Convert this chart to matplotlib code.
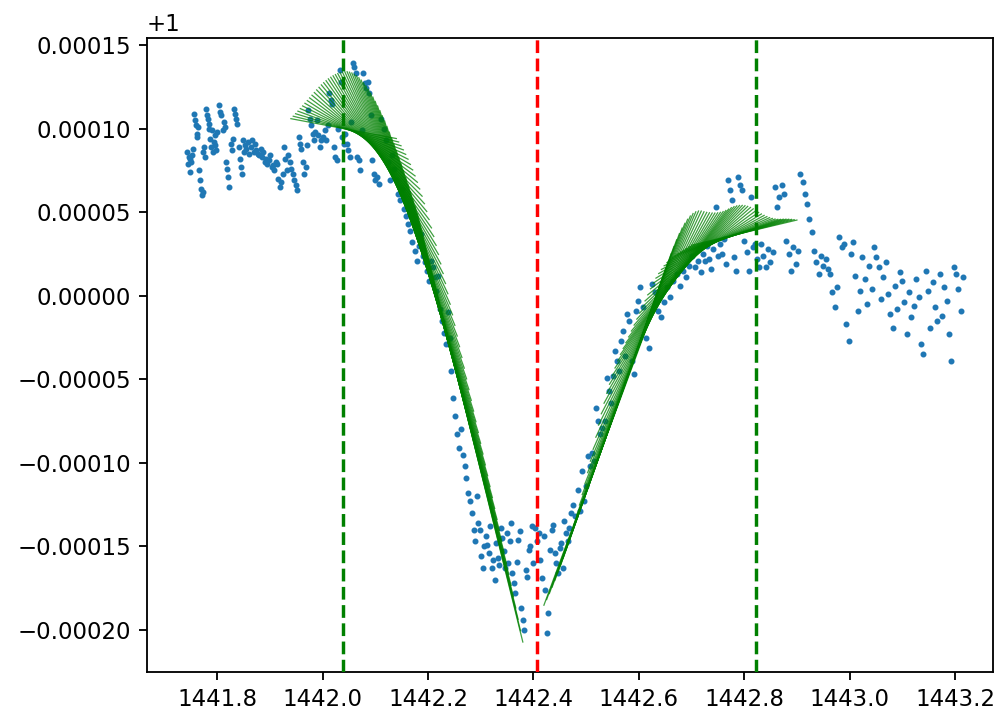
import numpy as np
import matplotlib
matplotlib.use("Agg")
import matplotlib.pyplot as plt

# ---- observed flux (offset from 1, in units of 1e-5), segment by segment ----
segA_range = (1441.743, 1441.800)
segA_vals = [8.6, 7.9, 8.3, 7.4, 8.2, 8.0, 8.4, 8.8, 10.9, 10.5, 10.2, 9.7, 9.5, 10.1, 7.5, 6.9,
             6.4, 6.0, 6.2, 8.6, 8.9, 8.3, 11.2, 10.8, 10.6, 10.0, 10.3, 9.4, 8.9, 9.9, 8.6, 9.2,
             9.6, 9.0, 8.7, 9.8]

segB_range = (1441.804, 1441.860)
segB_vals = [11.4, 11.0, 10.8, 9.9, 10.4, 10.1, 8.0, 7.6, 7.1, 6.5, 9.1, 8.7, 9.4, 11.2, 10.9,
             10.6, 10.3, 8.9, 8.2, 7.7, 7.3, 9.3, 8.6, 9.0, 8.8, 9.2, 8.5]

segC_range = (1441.864, 1441.940)
segC_vals = [8.9, 9.3, 8.6, 9.1, 8.7, 8.5, 8.4, 8.8, 8.3, 8.6, 8.0, 8.2, 7.9, 8.1, 8.4, 7.7,
             7.8, 7.5, 8.0, 7.9, 7.0, 6.5, 6.8, 7.3, 8.9, 8.2, 7.5, 8.4, 8.0, 7.6]

segD_range = (1441.944, 1442.000)
segD_vals = [7.3, 6.9, 6.6, 6.3, 9.5, 9.1, 8.8, 8.0, 7.3, 7.7, 9.0, 11.1, 10.6, 10.2, 9.7, 9.3,
             9.8, 10.5, 9.6, 8.9, 9.3, 9.5]

segE_range = (1442.004, 1442.100)
segE_vals = [9.9, 9.3, 10.2, 12.1, 11.7, 11.5, 8.9, 8.3, 8.1, 10.0, 13.5, 12.8, 9.5, 9.1, 9.7,
             9.1, 8.7, 8.3, 10.4, 13.9, 13.7, 13.3, 8.3, 8.1, 7.5, 9.9, 13.3, 12.7, 12.4, 12.8,
             12.1, 10.8, 8.1, 7.3, 6.9]

segF_range = (1442.104, 1442.198)
segF_vals = [7.1, 6.7, 10.6, 10.0, 9.3, 8.0, 6.9, 8.4, 7.6, 6.9, 6.1, 5.7, 6.4, 5.2, 4.8, 4.3,
             3.9, 3.2, 2.7, 2.1, 3.0, 3.7, 2.4, 2.0, 1.5]

segG_range = (1442.202, 1442.280)
segG_vals = [0.9, 2.1, 1.7, 1.1, 0.3, 1.2, -0.8, -1.5, -2.2, -2.9, -1.0, -2.5, -4.5, -6.1, -7.2,
             -8.3, -9.1, -8.0, -9.5, -10.2, -10.9, -11.8, -12.3]

segH_range = (1442.284, 1442.400)
segH_vals = [-13.0, -14.0, -14.7, -12.0, -13.6, -14.0, -15.6, -16.3, -15.0, -14.4, -14.9, -15.4,
             -13.8, -16.3, -15.8, -17.0, -14.8, -15.7, -16.1, -13.9, -14.5, -15.3, -16.3, -14.2,
             -16.0, -14.7, -13.6, -16.6, -17.2, -17.8, -15.9, -14.6, -14.1, -18.7, -19.4, -20.0,
             -16.4, -16.8, -15.2, -15.0, -13.8, -16.0]

segI_range = (1442.404, 1442.468)
segI_vals = [-13.9, -14.7, -14.2, -15.8, -16.9, -14.4, -17.6, -20.2, -19.0, -15.2, -14.0, -13.7,
             -15.4, -16.0, -16.6, -15.1, -14.8, -16.3, -13.5, -14.2, -14.7, -13.9]

segJ_range = (1442.472, 1442.598)
segJ_vals = [-13.0, -12.5, -13.2, -11.6, -12.9, -10.5, -12.3, -11.4, -9.6, -10.2, -9.4, -9.9,
             -6.7, -7.5, -8.3, -7.9, -7.5, -4.9, -5.7, -6.4, -4.8, -3.3, -3.9, -4.5, -2.7, -2.1,
             -3.6, -1.1, -1.5, -3.9, -4.7, -0.9, -0.3]

segK_range = (1442.602, 1442.718)
segK_vals = [0.5, -0.7, -2.5, -3.1, 0.7, 0.2, -0.9, -1.3, -0.4, 0.5, -0.1, 0.9, 1.3, 0.6, 1.5,
             1.1, 1.8, 2.4, 1.7, 2.1, 1.4]

segL_range = (1442.722, 1442.828)
segL_vals = [2.5, 2.1, 3.0, 2.2, 1.6, 2.8, 5.3, 2.4, 3.1, 2.5, 3.4, 1.9, 6.9, 6.3, 5.7, 2.3, 1.5,
             7.1, 6.6, 6.3, 3.3, 2.6, 1.5, 5.9, 2.9, 3.1, 2.2, 1.7]

segM_range = (1442.832, 1442.998)
segM_vals = [3.1, 2.4, 1.7, 2.8, 2.0, 2.6, 6.5, 5.3, 5.9, 6.6, 6.1, 3.3, 2.5, 1.5, 2.9, 1.9, 2.7,
             7.3, 6.8, 6.1, 5.5, 4.6, 3.8, 2.7, 2.0, 1.3, 2.4, 1.8, 2.2, 1.6, 1.3, 0.2, -0.7, 0.5,
             3.5, 2.9, 3.1, -1.7, -2.7]

segN_range = (1443.002, 1443.215)
segN_vals = [2.5, 3.2, 1.2, -0.9, 0.3, 2.3, 1.0, -0.5, 1.8, 0.4, 2.9, 2.3, 1.7, -0.2, 1.1, 2.0,
             0.1, -1.1, -1.9, 0.6, -0.8, 1.4, 0.9, -0.4, -2.3, 0.2, -1.3, -0.6, 1.0, -0.1, -2.9,
             -3.5, 1.5, 0.3, -1.9, 0.8, -0.7, -1.5, 1.3, -1.2, 0.5, -0.3, -2.3, -3.9, 1.7, 1.3,
             0.4, -0.9, 1.1]

# ---- smooth flank profiles (read from the green fits, 1e-5 units) ----
left_prof_x = [1441.89, 1441.94, 1441.99, 1442.04, 1442.09, 1442.14, 1442.19, 1442.24,
               1442.29, 1442.34, 1442.39, 1442.44]
left_prof_y = [9.1, 9.6, 9.95, 10.0, 9.1, 6.6, 2.4, -3.0, -9.2, -16.0, -23.2, -30.6]
left_tangent_span = (1442.04, 1442.28)

right_prof_x = [1442.37, 1442.42, 1442.47, 1442.52, 1442.57, 1442.62, 1442.67, 1442.72,
                1442.77, 1442.82, 1442.87, 1442.92]
right_prof_y = [-23.4, -18.8, -14.2, -10.0, -5.6, -1.6, 1.0, 2.7, 3.5, 3.9, 4.0, 4.0]
right_tangent_span = (1442.52, 1442.80)

n_tangents = 55
half_len = 0.10

# vertical markers
green_marks = [1442.039, 1442.823]
red_mark = 1442.407

SCALE = 1e-5

fig = plt.figure(figsize=(995 / 165, 713 / 165), dpi=165)
ax = fig.add_axes([147 / 995, 41 / 713, 846 / 995, 634 / 713])

segments = [(segA_range, segA_vals), (segB_range, segB_vals), (segC_range, segC_vals),
            (segD_range, segD_vals), (segE_range, segE_vals), (segF_range, segF_vals),
            (segG_range, segG_vals), (segH_range, segH_vals), (segI_range, segI_vals),
            (segJ_range, segJ_vals), (segK_range, segK_vals), (segL_range, segL_vals),
            (segM_range, segM_vals), (segN_range, segN_vals)]
xs, ys = [], []
for (a, b), vals in segments:
    xs.append(np.linspace(a, b, len(vals)))
    ys.append(1 + np.asarray(vals) * SCALE)
xs = np.concatenate(xs)
ys = np.concatenate(ys)
ax.scatter(xs, ys, s=2.6, color='C0', zorder=2)


def natural_spline(px, py):
    """Second derivatives of a natural cubic spline through the read profile points."""
    px = np.asarray(px, float)
    py = np.asarray(py, float)
    n = len(px)
    h = np.diff(px)
    A = np.zeros((n, n))
    r = np.zeros(n)
    A[0, 0] = A[-1, -1] = 1.0
    for i in range(1, n - 1):
        A[i, i - 1] = h[i - 1]
        A[i, i] = 2 * (h[i - 1] + h[i])
        A[i, i + 1] = h[i]
        r[i] = 6 * ((py[i + 1] - py[i]) / h[i] - (py[i] - py[i - 1]) / h[i - 1])
    M = np.linalg.solve(A, r)
    return px, py, M


def spline_eval(sp, t):
    px, py, M = sp
    i = int(np.clip(np.searchsorted(px, t) - 1, 0, len(px) - 2))
    h = px[i + 1] - px[i]
    a = px[i + 1] - t
    b = t - px[i]
    c1 = py[i] / h - M[i] * h / 6
    c2 = py[i + 1] / h - M[i + 1] * h / 6
    f = M[i] * a**3 / (6 * h) + M[i + 1] * b**3 / (6 * h) + c1 * a + c2 * b
    df = -M[i] * a**2 / (2 * h) + M[i + 1] * b**2 / (2 * h) - c1 + c2
    return f, df


def draw_tangents(px, py, span):
    sp = natural_spline(px, py)
    for t in np.linspace(span[0], span[1], n_tangents):
        yv, sl = spline_eval(sp, t)
        xx = np.array([t - half_len, t + half_len])
        yy = yv + sl * (xx - t)
        ax.plot(xx, 1 + yy * SCALE, color='green', lw=0.55, alpha=0.75, zorder=3)


draw_tangents(left_prof_x, left_prof_y, left_tangent_span)
draw_tangents(right_prof_x, right_prof_y, right_tangent_span)

for gm in green_marks:
    ax.axvline(gm, color='green', ls='--', lw=1.5, zorder=4)
ax.axvline(red_mark, color='red', ls='--', lw=1.5, zorder=4)

ax.set_xlim(1441.667, 1443.272)
ax.set_ylim(1 - 0.0002251, 1 + 0.0001542)

fig.savefig('out.png', dpi=165)
